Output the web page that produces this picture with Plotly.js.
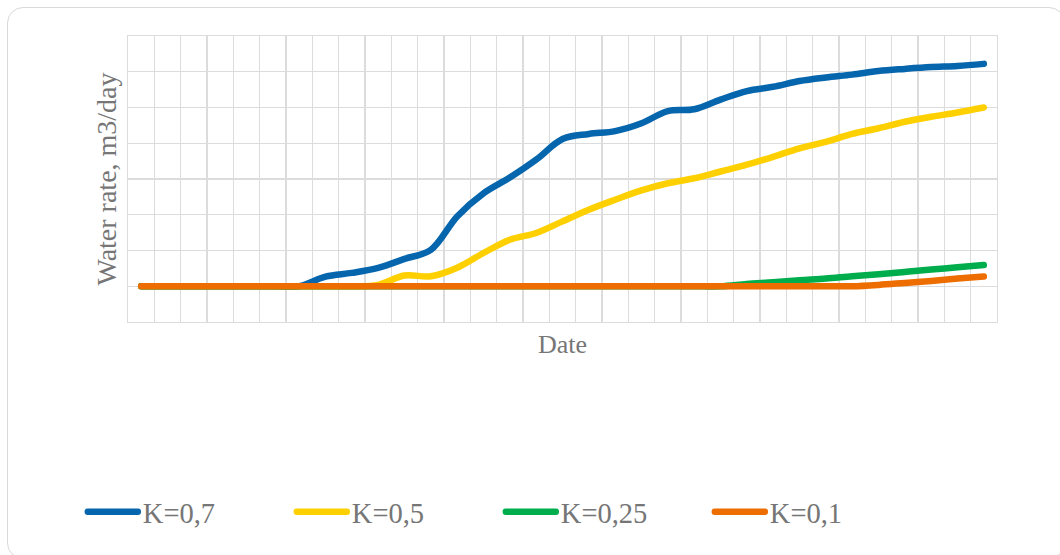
<!DOCTYPE html>
<html>
<head>
<meta charset="utf-8">
<script src="https://cdn.plot.ly/plotly-3.0.1.min.js"></script>
<style>
  html, body { margin: 0; padding: 0; background: #ffffff; }
  #frame { position: absolute; left: 7px; top: 7px; width: 1058px; height: 552px;
           border: 1.5px solid #d9d9d9; border-radius: 16px; box-sizing: border-box; }
  #chart { position: absolute; left: 0; top: 0; width: 1060px; height: 555px; }
  .js-line { stroke-linecap: round; stroke-linejoin: round; }
</style>
</head>
<body>
<div id="frame"></div>
<div id="chart"></div>
<script>
// category index along the Date axis (33 periods)
const periods = [0,1,2,3,4,5,6,7,8,9,10,11,12,13,14,15,16,17,18,19,20,21,22,23,24,25,26,27,28,29,30,31,32];

const seriesNames = ["K=0,7", "K=0,5", "K=0,25", "K=0,1"];
const seriesColors = ["#0565ad", "#ffd000", "#00ad4c", "#ee6d00"];

const k07 = [0,0,0,0,0,0,0,1.35,1.87,2.57,3.82,5.1,9.77,13.0,15.2,17.7,20.6,21.3,21.7,22.8,24.5,24.75,26.1,27.3,27.9,28.7,29.2,29.6,30.1,30.4,30.65,30.8,31.1];
const k05 = [0,0,0,0,0,0,0,0,0,0.2,1.5,1.4,2.6,4.65,6.5,7.45,9.07,10.7,12.1,13.4,14.4,15.1,16.05,17.0,18.1,19.3,20.2,21.3,22.1,23.0,23.7,24.3,25.0];
const k025 = [0,0,0,0,0,0,0,0,0,0,0,0,0,0,0,0,0,0,0,0,0,0,0,0.33,0.56,0.84,1.07,1.4,1.67,2.0,2.33,2.65,2.98];
const k01 = [0,0,0,0,0,0,0,0,0,0,0,0,0,0,0,0,0,0,0,0,0,0,0,0,0,0,0,0,0.19,0.47,0.75,1.07,1.35];

const allSeries = [k07, k05, k025, k01];

const FONT = "Liberation Serif, Times New Roman, serif";
const GRAY = "#767676";
const GRID = "#dcdcdc";

const traces = allSeries.map((ys, i) => ({
  type: "scatter",
  mode: "lines",
  x: periods,
  y: ys,
  name: seriesNames[i],
  line: { color: seriesColors[i], width: 6.5, shape: "spline", smoothing: 1 },
  hoverinfo: "skip"
}));

const layout = {
  width: 1060,
  height: 555,
  margin: { l: 128, r: 62.5, t: 35.7, b: 232.7, pad: 0, autoexpand: false },
  paper_bgcolor: "rgba(0,0,0,0)",
  plot_bgcolor: "#ffffff",
  font: { family: FONT, color: GRAY, size: 26 },
  showlegend: true,
  legend: {
    orientation: "h",
    x: -0.052, xanchor: "left",
    y: -0.576, yanchor: "top",
    font: { family: FONT, color: GRAY, size: 28.5 },
    itemwidth: 50,
    entrywidth: 144,
    bgcolor: "rgba(0,0,0,0)",
    traceorder: "normal"
  },
  xaxis: {
    type: "linear",
    range: [-0.5, 32.5],
    tick0: -0.5, dtick: 1,
    showgrid: true, gridcolor: GRID, gridwidth: 1.4,
    showline: true, mirror: true, linecolor: GRID, linewidth: 1.4,
    zeroline: false, showticklabels: false, ticks: "",
    title: { text: "Date", font: { family: FONT, color: GRAY, size: 26 }, standoff: 12 },
    fixedrange: true
  },
  yaxis: {
    type: "linear",
    range: [-5, 35],
    tick0: 0, dtick: 5,
    showgrid: true, gridcolor: GRID, gridwidth: 1.4,
    showline: true, mirror: true, linecolor: GRID, linewidth: 1.4,
    zeroline: false, showticklabels: false, ticks: "",
    title: { text: "Water rate, m3/day", font: { family: FONT, color: GRAY, size: 28 }, standoff: 2 },
    fixedrange: true
  }
};

Plotly.newPlot("chart", traces, layout, { staticPlot: true, displayModeBar: false });
</script>
</body>
</html>
